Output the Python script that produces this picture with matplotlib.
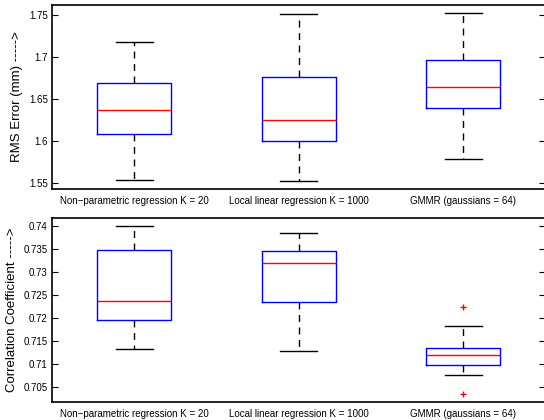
import matplotlib
matplotlib.use("Agg")
from matplotlib import pyplot as plt

plt.rcParams['font.family'] = ['Liberation Sans', 'DejaVu Sans']

methods = ["Non\u2212parametric regression K = 20",
           "Local linear regression K = 1000",
           "GMMR (gaussians = 64)"]

# RMS error boxes: whisker low, q1, median, q3, whisker high
rms_lo = [1.554, 1.5524, 1.579]
rms_q1 = [1.608, 1.6004, 1.639]
rms_med = [1.6365, 1.6247, 1.664]
rms_q3 = [1.6687, 1.676, 1.696]
rms_hi = [1.7175, 1.751, 1.752]
rms_out = [[], [], []]

# correlation coefficient boxes
cc_lo = [0.7132, 0.7128, 0.7076]
cc_q1 = [0.7196, 0.7234, 0.7098]
cc_med = [0.7238, 0.7320, 0.7119]
cc_q3 = [0.7348, 0.7346, 0.7134]
cc_hi = [0.7400, 0.7385, 0.7183]
cc_out = [[], [], [0.7224, 0.7035]]


def make_stats(lo, q1, med, q3, hi, out):
    return [dict(whislo=lo[i], q1=q1[i], med=med[i], q3=q3[i], whishi=hi[i],
                 fliers=out[i]) for i in range(len(lo))]


def draw(ax, stats, ylim, ticks, ticklabels, ylabel):
    ax.bxp(stats, positions=[1, 2, 3], widths=0.45, showfliers=True,
           boxprops=dict(color='blue', linewidth=1.0),
           medianprops=dict(color='red', linewidth=1.0),
           whiskerprops=dict(color='black', linestyle=(0, (5, 4)), linewidth=1.0),
           capprops=dict(color='black', linewidth=1.0),
           capwidths=0.225,
           flierprops=dict(marker='+', markeredgecolor='red', markersize=5,
                           markeredgewidth=1.0, linestyle='none'))
    ax.set_xlim(0.5, 3.5)
    ax.set_ylim(*ylim)
    ax.set_yticks(ticks)
    ax.set_yticklabels(ticklabels, fontsize=7)
    ax.set_xticks([1, 2, 3])
    ax.set_xticklabels(methods, fontsize=7)
    ax.tick_params(axis='x', length=0, pad=5)
    ax.tick_params(axis='y', direction='in', length=4, right=True, width=0.8, pad=3)
    for s in ax.spines.values():
        s.set_linewidth(1.2)
    ax.set_ylabel(ylabel, fontsize=9.5, labelpad=4)


fig = plt.figure(figsize=(5.44, 4.2), dpi=100)
ax1 = fig.add_axes([0.0956, 0.55, 0.907, 0.438])
ax2 = fig.add_axes([0.0956, 0.042, 0.907, 0.4397])

draw(ax1, make_stats(rms_lo, rms_q1, rms_med, rms_q3, rms_hi, rms_out),
     (1.5429, 1.762), [1.55, 1.6, 1.65, 1.7, 1.75],
     ["1.55", "1.6", "1.65", "1.7", "1.75"], "RMS Error (mm) ----->")
draw(ax2, make_stats(cc_lo, cc_q1, cc_med, cc_q3, cc_hi, cc_out),
     (0.7017, 0.7418), [0.705, 0.71, 0.715, 0.72, 0.725, 0.73, 0.735, 0.74],
     ["0.705", "0.71", "0.715", "0.72", "0.725", "0.73", "0.735", "0.74"],
     "Correlation Coefficient ----->")

fig.savefig("out.png", dpi=100)
